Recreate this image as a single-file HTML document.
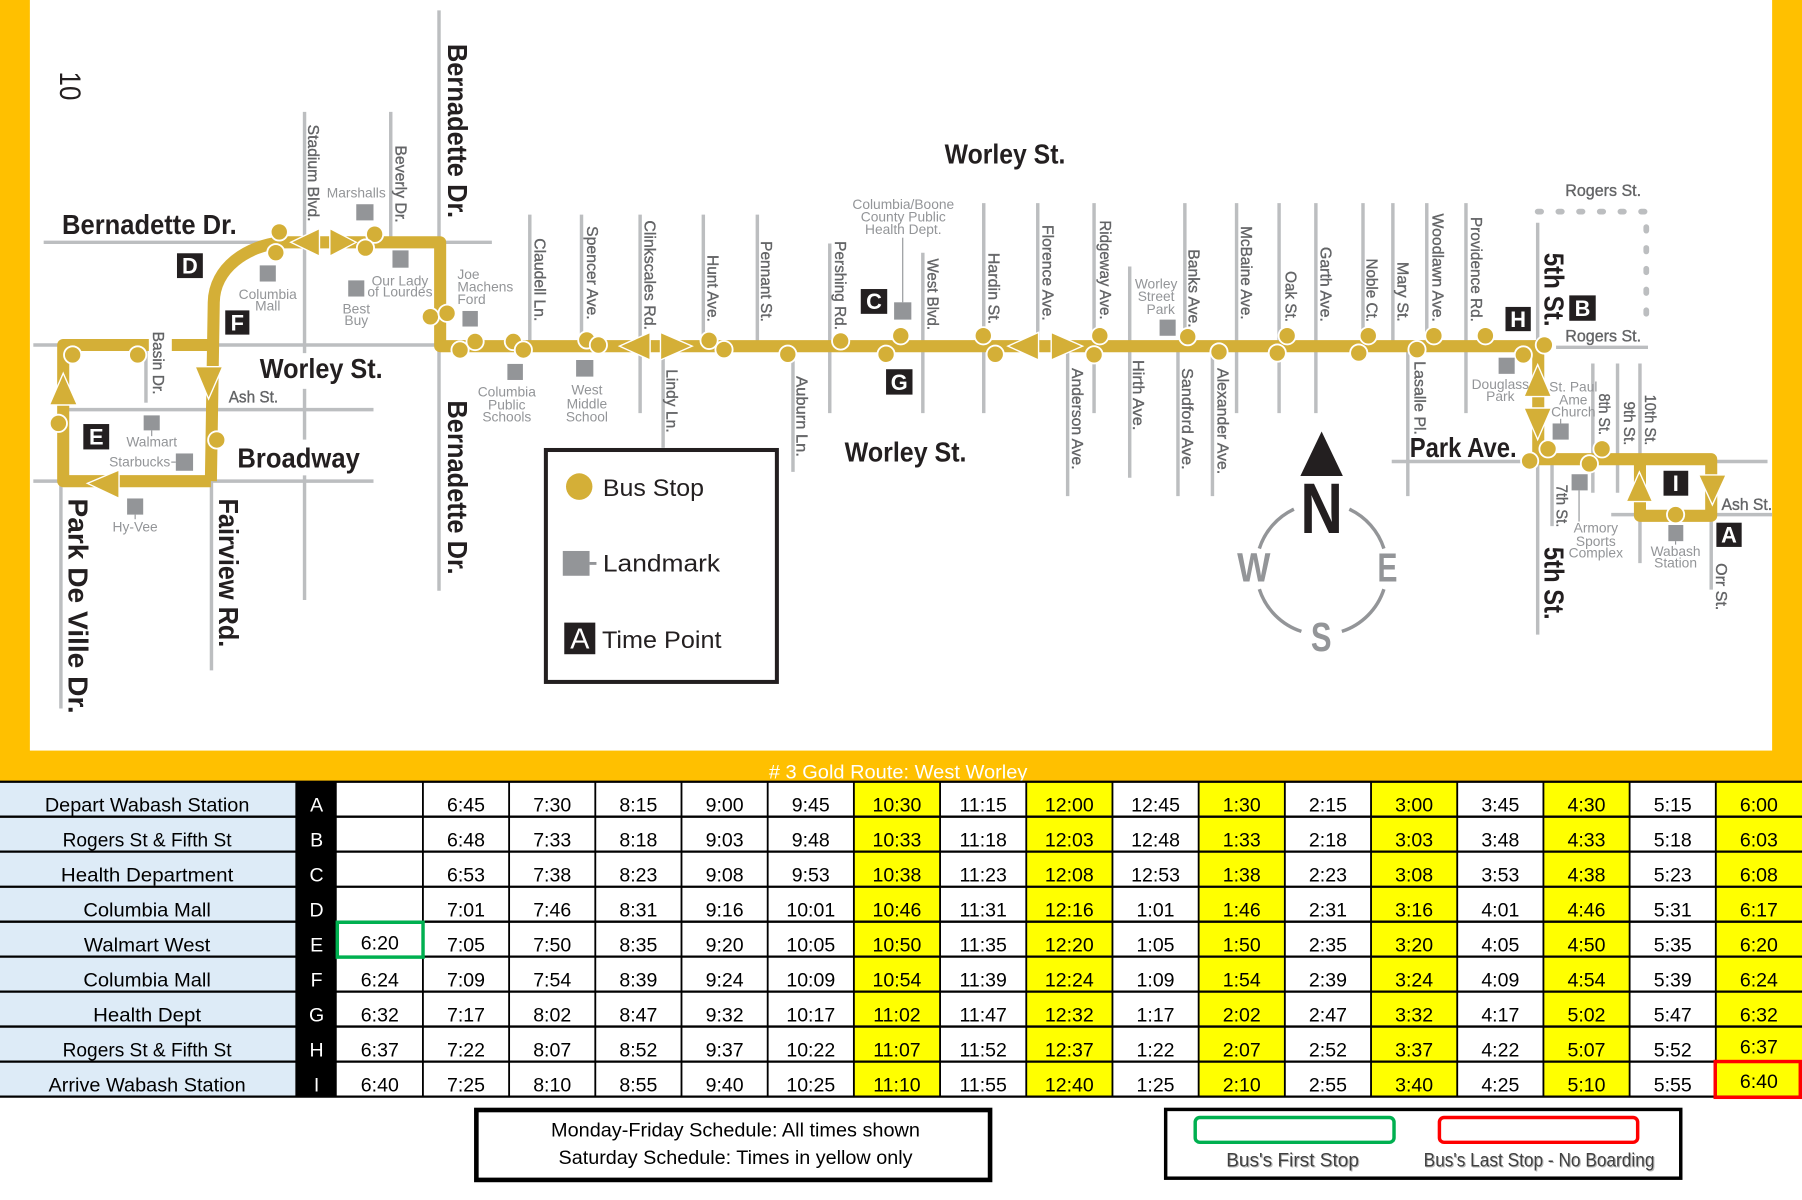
<!DOCTYPE html>
<html><head><meta charset="utf-8"><style>
html,body{margin:0;padding:0;background:#fff;}
svg{display:block;}
text{font-family:"Liberation Sans",sans-serif;}
.sl{font-size:14px;fill:#636466;stroke:#636466;stroke-width:0.3;}
.bl{font-size:24px;font-weight:bold;fill:#231F20;}
.lm{font-size:12px;fill:#939598;text-anchor:middle;}
.tp{font-size:19px;font-weight:bold;fill:#fff;text-anchor:middle;}
.tc{font-size:17px;fill:#000;text-anchor:middle;}
.nm{font-size:17px;fill:#000;text-anchor:middle;}
.lt{font-size:17px;fill:#fff;text-anchor:middle;}
</style></head><body>
<svg width="1802" height="1200" viewBox="0 0 1568 1040" preserveAspectRatio="none" xmlns="http://www.w3.org/2000/svg">
<rect x="0" y="0" width="1568" height="1040" fill="#fff"/>
<rect x="0" y="0" width="26" height="678" fill="#FFC000"/>
<rect x="1542" y="0" width="26" height="678" fill="#FFC000"/>
<rect x="0" y="650.5" width="1568" height="27.5" fill="#FFC000"/>

<!-- streets -->
<g stroke="#BCBEC0" stroke-width="3" fill="none">
<line x1="38" y1="210" x2="428" y2="210"/>
<line x1="29" y1="299" x2="382" y2="299"/>
<line x1="55" y1="355" x2="325" y2="355"/>
<line x1="29" y1="417" x2="325" y2="417"/>
<line x1="1354" y1="301" x2="1434" y2="301"/>
<line x1="1211" y1="400" x2="1538" y2="400"/>
<line x1="1402" y1="446" x2="1542" y2="446"/>
<line x1="265" y1="97" x2="265" y2="306"/>
<line x1="265" y1="337" x2="265" y2="381"/>
<line x1="265" y1="412" x2="265" y2="520"/>
<line x1="340" y1="97" x2="340" y2="210"/>
<line x1="382" y1="9" x2="382" y2="512"/>
<line x1="127" y1="300" x2="127" y2="349"/>
<line x1="184" y1="417" x2="184" y2="581"/>
<line x1="53" y1="417" x2="53" y2="614"/>
<line x1="461" y1="186" x2="461" y2="300"/>
<line x1="506" y1="186" x2="506" y2="300"/>
<line x1="557" y1="186" x2="557" y2="358"/>
<line x1="577" y1="300" x2="577" y2="388"/>
<line x1="612" y1="186" x2="612" y2="300"/>
<line x1="659" y1="186" x2="659" y2="300"/>
<line x1="690" y1="300" x2="690" y2="409"/>
<line x1="722" y1="211" x2="722" y2="358"/>
<line x1="803" y1="219" x2="803" y2="358"/>
<line x1="856" y1="176" x2="856" y2="358"/>
<line x1="903" y1="176" x2="903" y2="300"/>
<line x1="929" y1="300" x2="929" y2="430"/>
<line x1="952" y1="176" x2="952" y2="358"/>
<line x1="983" y1="231" x2="983" y2="414"/>
<line x1="1025" y1="300" x2="1025" y2="430"/>
<line x1="1031" y1="176" x2="1031" y2="300"/>
<line x1="1055" y1="300" x2="1055" y2="430"/>
<line x1="1076" y1="176" x2="1076" y2="358"/>
<line x1="1113" y1="176" x2="1113" y2="358"/>
<line x1="1145" y1="176" x2="1145" y2="358"/>
<line x1="1186" y1="176" x2="1186" y2="300"/>
<line x1="1212" y1="176" x2="1212" y2="300"/>
<line x1="1225" y1="300" x2="1225" y2="430"/>
<line x1="1241.5" y1="176" x2="1241.5" y2="300"/>
<line x1="1275.6" y1="176" x2="1275.6" y2="358"/>
<line x1="1338" y1="193" x2="1338" y2="550"/>
<line x1="1386" y1="315" x2="1386" y2="427"/>
<line x1="1407.5" y1="315" x2="1407.5" y2="427"/>
<line x1="1427" y1="315" x2="1427" y2="488"/>
<line x1="1350.5" y1="400" x2="1350.5" y2="456"/>
<line x1="1489" y1="447" x2="1489" y2="511"/>
</g>
<path d="M1338,183.4 H1432.5 V277" stroke="#BCBEC0" stroke-width="5" fill="none" stroke-dasharray="3 15" stroke-linecap="round"/>

<!-- route -->
<g stroke="#D4AF37" stroke-width="10.5" fill="none" stroke-linejoin="round">
<path d="M185,299 H55 V417 H183.5"/>
<path d="M245,210 C215,213 186.5,232 186,262 L183.5,417"/>
<path d="M240,210 H383 V300 H1338.5 V398 H1489 V447 H1427 V398"/>
</g>
<rect x="129.5" y="291" width="20" height="17" fill="#fff"/>

<!-- arrows -->
<g fill="#D4AF37" stroke="#fff" stroke-width="1.2">
<polygon points="253,210 278,198 278,222"/>
<polygon points="310,210 287,198 287,222"/>
<polygon points="539,300 565.7,288 565.7,312"/>
<polygon points="602.3,300 574.7,288 574.7,312"/>
<polygon points="877,300 903.7,288 903.7,312"/>
<polygon points="942,300 914.7,288 914.7,312"/>
<polygon points="1338,316 1326,343.7 1350,343.7"/>
<polygon points="1338,381 1326,353.6 1350,353.6"/>
<polygon points="55,323.5 43,351 67.3,351"/>
<polygon points="181.5,345.8 169.7,317.8 193.8,317.8"/>
<polygon points="76,418.9 103.6,407.3 103.6,431.9"/>
<polygon points="1426.5,409 1415,434.7 1438,434.7"/>
<polygon points="1490,437.6 1478,411.6 1502,411.6"/>
</g>

<!-- bus stops -->
<g fill="#D4AF37" stroke="#fff" stroke-width="1.6">
<circle cx="63.2" cy="307.6" r="7.5"/>
<circle cx="119.8" cy="307.6" r="7.5"/>
<circle cx="50.8" cy="366.9" r="7.5"/>
<circle cx="188.6" cy="381.3" r="7.5"/>
<circle cx="243" cy="201" r="7.5"/>
<circle cx="240" cy="219" r="7.5"/>
<circle cx="326" cy="203" r="7.5"/>
<circle cx="318" cy="215" r="7.5"/>
<circle cx="374.5" cy="274.5" r="7.5"/>
<circle cx="389" cy="271.5" r="7.5"/>
<circle cx="400.3" cy="303.3" r="7.5"/>
<circle cx="413.4" cy="296" r="7.5"/>
<circle cx="446.7" cy="296" r="7.5"/>
<circle cx="455.4" cy="303.3" r="7.5"/>
<circle cx="510.6" cy="294.6" r="7.5"/>
<circle cx="520.7" cy="299" r="7.5"/>
<circle cx="617" cy="295" r="7.5"/>
<circle cx="630" cy="303" r="7.5"/>
<circle cx="685.5" cy="307" r="7.5"/>
<circle cx="731.5" cy="295.5" r="7.5"/>
<circle cx="783.8" cy="291" r="7.5"/>
<circle cx="771" cy="307" r="7.5"/>
<circle cx="855.6" cy="291" r="7.5"/>
<circle cx="866" cy="307" r="7.5"/>
<circle cx="957" cy="291" r="7.5"/>
<circle cx="952" cy="307.5" r="7.5"/>
<circle cx="1033.5" cy="291.8" r="7.5"/>
<circle cx="1060.7" cy="305" r="7.5"/>
<circle cx="1120" cy="291" r="7.5"/>
<circle cx="1111.4" cy="306" r="7.5"/>
<circle cx="1190.6" cy="291" r="7.5"/>
<circle cx="1182.3" cy="306" r="7.5"/>
<circle cx="1233" cy="303" r="7.5"/>
<circle cx="1247.7" cy="291" r="7.5"/>
<circle cx="1292.5" cy="291" r="7.5"/>
<circle cx="1325.5" cy="307.6" r="7.5"/>
<circle cx="1343.8" cy="299" r="7.5"/>
<circle cx="1347" cy="389" r="7.5"/>
<circle cx="1331" cy="399.5" r="7.5"/>
<circle cx="1394" cy="389" r="7.5"/>
<circle cx="1383" cy="402" r="7.5"/>
<circle cx="1458" cy="446" r="7.5"/>
</g>

<!-- landmarks -->
<g fill="#939598">
<rect x="310" y="177" width="15" height="14"/>
<rect x="226" y="230" width="14" height="14"/>
<rect x="341.5" y="217" width="14" height="15"/>
<rect x="303" y="243" width="14" height="14"/>
<rect x="402.4" y="269.5" width="13.4" height="13.5"/>
<rect x="441.5" y="315.4" width="13.5" height="13.9"/>
<rect x="501.3" y="312" width="15" height="14.4"/>
<rect x="778" y="262" width="15" height="15"/>
<rect x="1009" y="277" width="14" height="14"/>
<rect x="1304" y="310" width="14" height="14"/>
<rect x="1351" y="367" width="14" height="14"/>
<rect x="1367.5" y="411" width="14" height="14"/>
<rect x="1451.7" y="455" width="13" height="14"/>
<rect x="125" y="360" width="14" height="13"/>
<rect x="153" y="393" width="15" height="15"/>
<rect x="110.6" y="432" width="14" height="14"/>
</g>
<g stroke="#939598" stroke-width="1">
<line x1="785.5" y1="206" x2="785.5" y2="262"/>
<line x1="1374" y1="425" x2="1374" y2="452"/>
<line x1="149" y1="400.5" x2="153" y2="400.5"/>
<line x1="132" y1="373" x2="132" y2="378"/>
<line x1="117.6" y1="446" x2="117.6" y2="450"/>
<line x1="1358" y1="363" x2="1358" y2="367"/>
<line x1="1458" y1="469" x2="1458" y2="472"/>
</g>

<!-- landmark labels -->
<g class="lm">
<text class="lm" x="310" y="171">Marshalls</text>
<text class="lm" x="233" y="259">Columbia</text>
<text class="lm" x="233" y="269.2">Mall</text>
<text class="lm" x="348" y="247.6">Our Lady</text>
<text class="lm" x="348" y="257">of Lourdes</text>
<text class="lm" x="310" y="271.5">Best</text>
<text class="lm" x="310" y="281.7">Buy</text>
<text class="lm" x="398" y="242" style="text-anchor:start">Joe</text>
<text class="lm" x="398" y="252.8" style="text-anchor:start">Machens</text>
<text class="lm" x="398" y="263.5" style="text-anchor:start">Ford</text>
<text class="lm" x="441" y="343.8">Columbia</text>
<text class="lm" x="441" y="354.7">Public</text>
<text class="lm" x="441" y="365.4">Schools</text>
<text class="lm" x="510.7" y="341.7">West</text>
<text class="lm" x="510.7" y="353.9">Middle</text>
<text class="lm" x="510.7" y="365.4">School</text>
<text class="lm" x="786" y="181">Columbia/Boone</text>
<text class="lm" x="786" y="192.1">County Public</text>
<text class="lm" x="786" y="202.8">Health Dept.</text>
<text class="lm" x="1006" y="250">Worley</text>
<text class="lm" x="1006" y="261">Street</text>
<text class="lm" x="1010" y="272">Park</text>
<text class="lm" x="1305.5" y="337">Douglass</text>
<text class="lm" x="1305.5" y="347.5">Park</text>
<text class="lm" x="1369" y="339.4">St. Paul</text>
<text class="lm" x="1369" y="350.4">Ame</text>
<text class="lm" x="1369" y="361">Church</text>
<text class="lm" x="1388.6" y="461.6">Armory</text>
<text class="lm" x="1388.6" y="473">Sports</text>
<text class="lm" x="1388.6" y="483.3">Complex</text>
<text class="lm" x="1458" y="481.9">Wabash</text>
<text class="lm" x="1458" y="492">Station</text>
<text class="lm" x="132" y="387">Walmart</text>
<text class="lm" x="148.2" y="404.4" style="text-anchor:end">Starbucks</text>
<text class="lm" x="117.6" y="460.8">Hy-Vee</text>
</g>

<!-- gray street labels -->
<g>
<text class="sl" transform="translate(268,108) rotate(90)" textLength="84" lengthAdjust="spacingAndGlyphs">Stadium Blvd.</text>
<text class="sl" transform="translate(344,126) rotate(90)" textLength="67" lengthAdjust="spacingAndGlyphs">Beverly Dr.</text>
<text class="sl" transform="translate(133,287.4) rotate(90)" textLength="54.5" lengthAdjust="spacingAndGlyphs">Basin Dr.</text>
<text class="sl" transform="translate(465,206.5) rotate(90)" textLength="72" lengthAdjust="spacingAndGlyphs">Claudell Ln.</text>
<text class="sl" transform="translate(510.7,196) rotate(90)" textLength="81" lengthAdjust="spacingAndGlyphs">Spencer Ave.</text>
<text class="sl" transform="translate(561,191) rotate(90)" textLength="95" lengthAdjust="spacingAndGlyphs">Clinkscales Rd.</text>
<text class="sl" transform="translate(580,320) rotate(90)" textLength="55" lengthAdjust="spacingAndGlyphs">Lindy Ln.</text>
<text class="sl" transform="translate(615.6,221) rotate(90)" textLength="58" lengthAdjust="spacingAndGlyphs">Hunt Ave.</text>
<text class="sl" transform="translate(662,209) rotate(90)" textLength="70" lengthAdjust="spacingAndGlyphs">Pennant St.</text>
<text class="sl" transform="translate(693,326) rotate(90)" textLength="70" lengthAdjust="spacingAndGlyphs">Auburn Ln.</text>
<text class="sl" transform="translate(726.5,209) rotate(90)" textLength="77" lengthAdjust="spacingAndGlyphs">Pershing Rd.</text>
<text class="sl" transform="translate(807,224) rotate(90)" textLength="62" lengthAdjust="spacingAndGlyphs">West Blvd.</text>
<text class="sl" transform="translate(860,219) rotate(90)" textLength="62" lengthAdjust="spacingAndGlyphs">Hardin St.</text>
<text class="sl" transform="translate(907,195) rotate(90)" textLength="83" lengthAdjust="spacingAndGlyphs">Florence Ave.</text>
<text class="sl" transform="translate(932.7,319) rotate(90)" textLength="88" lengthAdjust="spacingAndGlyphs">Anderson Ave.</text>
<text class="sl" transform="translate(957,191) rotate(90)" textLength="86" lengthAdjust="spacingAndGlyphs">Ridgeway Ave.</text>
<text class="sl" transform="translate(986,312) rotate(90)" textLength="61" lengthAdjust="spacingAndGlyphs">Hirth Ave.</text>
<text class="sl" transform="translate(1034,216) rotate(90)" textLength="68" lengthAdjust="spacingAndGlyphs">Banks Ave.</text>
<text class="sl" transform="translate(1028.5,319) rotate(90)" textLength="88" lengthAdjust="spacingAndGlyphs">Sandford Ave.</text>
<text class="sl" transform="translate(1059.4,319) rotate(90)" textLength="92" lengthAdjust="spacingAndGlyphs">Alexander Ave.</text>
<text class="sl" transform="translate(1080,196) rotate(90)" textLength="81" lengthAdjust="spacingAndGlyphs">McBaine Ave.</text>
<text class="sl" transform="translate(1118.6,235) rotate(90)" textLength="44" lengthAdjust="spacingAndGlyphs">Oak St.</text>
<text class="sl" transform="translate(1149,214) rotate(90)" textLength="65" lengthAdjust="spacingAndGlyphs">Garth Ave.</text>
<text class="sl" transform="translate(1189,224) rotate(90)" textLength="55" lengthAdjust="spacingAndGlyphs">Noble Ct.</text>
<text class="sl" transform="translate(1216,227) rotate(90)" textLength="52" lengthAdjust="spacingAndGlyphs">Mary St.</text>
<text class="sl" transform="translate(1231,313) rotate(90)" textLength="64" lengthAdjust="spacingAndGlyphs">Lasalle Pl.</text>
<text class="sl" transform="translate(1246.4,185) rotate(90)" textLength="94" lengthAdjust="spacingAndGlyphs">Woodlawn Ave.</text>
<text class="sl" transform="translate(1280,188) rotate(90)" textLength="91" lengthAdjust="spacingAndGlyphs">Providence Rd.</text>
<text class="sl" transform="translate(1391.5,341) rotate(90)" textLength="36" lengthAdjust="spacingAndGlyphs">8th St.</text>
<text class="sl" transform="translate(1413,348) rotate(90)" textLength="38" lengthAdjust="spacingAndGlyphs">9th St.</text>
<text class="sl" transform="translate(1431.5,342) rotate(90)" textLength="44" lengthAdjust="spacingAndGlyphs">10th St.</text>
<text class="sl" transform="translate(1354.5,420) rotate(90)" textLength="37" lengthAdjust="spacingAndGlyphs">7th St.</text>
<text class="sl" transform="translate(1493,488) rotate(90)" textLength="41" lengthAdjust="spacingAndGlyphs">Orr St.</text>
<text class="sl" x="199" y="349" textLength="43" lengthAdjust="spacingAndGlyphs">Ash St.</text>
<text class="sl" x="1498" y="442" textLength="44" lengthAdjust="spacingAndGlyphs">Ash St.</text>
<text class="sl" x="1362" y="170" textLength="66" lengthAdjust="spacingAndGlyphs">Rogers St.</text>
<text class="sl" x="1362" y="296" textLength="66" lengthAdjust="spacingAndGlyphs">Rogers St.</text>
</g>

<!-- bold labels -->
<g>
<text class="bl" x="54" y="203" textLength="152" lengthAdjust="spacingAndGlyphs">Bernadette Dr.</text>
<text class="bl" x="226" y="327.7" textLength="107" lengthAdjust="spacingAndGlyphs">Worley St.</text>
<text class="bl" x="822" y="141.5" textLength="105" lengthAdjust="spacingAndGlyphs">Worley St.</text>
<text class="bl" x="735" y="400" textLength="106" lengthAdjust="spacingAndGlyphs">Worley St.</text>
<text class="bl" x="206.6" y="405" textLength="106.5" lengthAdjust="spacingAndGlyphs">Broadway</text>
<text class="bl" x="1226.7" y="396" textLength="93" lengthAdjust="spacingAndGlyphs">Park Ave.</text>
<text class="bl" transform="translate(390,38) rotate(90)" textLength="151" lengthAdjust="spacingAndGlyphs">Bernadette Dr.</text>
<text class="bl" transform="translate(390,347) rotate(90)" textLength="151" lengthAdjust="spacingAndGlyphs">Bernadette Dr.</text>
<text class="bl" transform="translate(190.5,432) rotate(90)" textLength="129" lengthAdjust="spacingAndGlyphs">Fairview Rd.</text>
<text class="bl" transform="translate(59.5,432) rotate(90)" textLength="186.5" lengthAdjust="spacingAndGlyphs">Park De Ville Dr.</text>
<text class="bl" transform="translate(1344,219) rotate(90)" textLength="64" lengthAdjust="spacingAndGlyphs">5th St.</text>
<text class="bl" transform="translate(1344,474) rotate(90)" textLength="63" lengthAdjust="spacingAndGlyphs">5th St.</text>
<text transform="translate(52,62) rotate(90)" font-size="26" fill="#231F20" textLength="25" lengthAdjust="spacingAndGlyphs">10</text>
</g>

<!-- time point boxes -->
<g fill="#231F20">
<rect x="154" y="219.5" width="22.5" height="21.5"/>
<rect x="196" y="269" width="21" height="21"/>
<rect x="72.5" y="367.5" width="22.5" height="22"/>
<rect x="749" y="250.5" width="23" height="21.5"/>
<rect x="771" y="320" width="23" height="22"/>
<rect x="1310" y="266" width="22" height="21"/>
<rect x="1365.5" y="256" width="23" height="22"/>
<rect x="1447.5" y="408" width="21.5" height="21.6"/>
<rect x="1493.5" y="453" width="22" height="21"/>
</g>
<g>
<text class="tp" x="165.2" y="237.2">D</text>
<text class="tp" x="206.5" y="286.3">F</text>
<text class="tp" x="83.8" y="385.3">E</text>
<text class="tp" x="760.5" y="268">C</text>
<text class="tp" x="782.5" y="337.8">G</text>
<text class="tp" x="1321" y="283.3">H</text>
<text class="tp" x="1377" y="273.8">B</text>
<text class="tp" x="1458.2" y="425.6">I</text>
<text class="tp" x="1504.5" y="470.3">A</text>
</g>

<!-- compass -->
<polygon points="1150,374 1131.5,412.5 1168.5,412.5" fill="#231F20"/>
<text x="1131.5" y="462" font-size="62" font-weight="bold" fill="#231F20" textLength="37" lengthAdjust="spacingAndGlyphs">N</text>
<g stroke="#939598" stroke-width="3" fill="none">
<path d="M1125.9,441.3 A57,57 0 0 0 1095.8,475.4"/>
<path d="M1095.8,510.6 A57,57 0 0 0 1132.4,547.2"/>
<path d="M1167.6,547.2 A57,57 0 0 0 1204.2,510.6"/>
<path d="M1204.2,475.4 A57,57 0 0 0 1174.1,441.3"/>
</g>
<text x="1076.5" y="504" font-size="35" font-weight="bold" fill="#939598" textLength="29" lengthAdjust="spacingAndGlyphs">W</text>
<text x="1198.5" y="504" font-size="35" font-weight="bold" fill="#939598" textLength="17.5" lengthAdjust="spacingAndGlyphs">E</text>
<text x="1140.7" y="564" font-size="35" font-weight="bold" fill="#939598" textLength="18" lengthAdjust="spacingAndGlyphs">S</text>

<!-- legend -->
<rect x="475" y="390" width="201" height="201" fill="#fff" stroke="#231F20" stroke-width="3.5"/>
<circle cx="504" cy="421.7" r="11.5" fill="#D4AF37"/>
<text x="524.6" y="430" font-size="21" fill="#231F20" textLength="88" lengthAdjust="spacingAndGlyphs">Bus Stop</text>
<rect x="489.7" y="477.5" width="23.3" height="21.5" fill="#939598"/>
<line x1="513" y1="488.3" x2="519" y2="488.3" stroke="#939598" stroke-width="2.5"/>
<text x="524.6" y="495.4" font-size="21" fill="#231F20" textLength="102" lengthAdjust="spacingAndGlyphs">Landmark</text>
<rect x="491" y="539.6" width="27" height="27.4" fill="#231F20"/>
<text x="504.5" y="562" font-size="25" fill="#fff" text-anchor="middle">A</text>
<text x="523.8" y="561.6" font-size="21" fill="#231F20" textLength="104" lengthAdjust="spacingAndGlyphs">Time Point</text>

<!-- title -->
<text x="669" y="674.5" font-size="17" fill="#fff" textLength="225" lengthAdjust="spacingAndGlyphs"># 3 Gold Route: West Worley</text>

<!-- table backgrounds -->
<rect x="0" y="677.5" width="257" height="273" fill="#DDEBF7"/>
<rect x="257" y="677.5" width="36" height="273" fill="#000"/>
<g fill="#FFFF00">
<rect x="743" y="677.5" width="75" height="273"/>
<rect x="893" y="677.5" width="75" height="273"/>
<rect x="1043" y="677.5" width="75" height="273"/>
<rect x="1193" y="677.5" width="75" height="273"/>
<rect x="1343" y="677.5" width="75" height="273"/>
<rect x="1493" y="677.5" width="75" height="273"/>
</g>
<g stroke="#000" stroke-width="2">
<line x1="0" y1="677.5" x2="1568" y2="677.5"/>
<line x1="0" y1="707.8" x2="1568" y2="707.8"/>
<line x1="0" y1="738.1" x2="1568" y2="738.1"/>
<line x1="0" y1="768.5" x2="1568" y2="768.5"/>
<line x1="0" y1="798.8" x2="1568" y2="798.8"/>
<line x1="0" y1="829.1" x2="1568" y2="829.1"/>
<line x1="0" y1="859.4" x2="1568" y2="859.4"/>
<line x1="0" y1="889.7" x2="1568" y2="889.7"/>
<line x1="0" y1="920.1" x2="1568" y2="920.1"/>
<line x1="0" y1="950.4" x2="1568" y2="950.4"/>
</g>
<g stroke="#000" stroke-width="1.6">
<line x1="368" y1="677.5" x2="368" y2="950.4"/>
<line x1="443" y1="677.5" x2="443" y2="950.4"/>
<line x1="518" y1="677.5" x2="518" y2="950.4"/>
<line x1="593" y1="677.5" x2="593" y2="950.4"/>
<line x1="668" y1="677.5" x2="668" y2="950.4"/>
<line x1="743" y1="677.5" x2="743" y2="950.4"/>
<line x1="818" y1="677.5" x2="818" y2="950.4"/>
<line x1="893" y1="677.5" x2="893" y2="950.4"/>
<line x1="968" y1="677.5" x2="968" y2="950.4"/>
<line x1="1043" y1="677.5" x2="1043" y2="950.4"/>
<line x1="1118" y1="677.5" x2="1118" y2="950.4"/>
<line x1="1193" y1="677.5" x2="1193" y2="950.4"/>
<line x1="1268" y1="677.5" x2="1268" y2="950.4"/>
<line x1="1343" y1="677.5" x2="1343" y2="950.4"/>
<line x1="1418" y1="677.5" x2="1418" y2="950.4"/>
<line x1="1493" y1="677.5" x2="1493" y2="950.4"/>
</g>

<!-- names -->
<g>
<text class="nm" x="128" y="703.5" textLength="178" lengthAdjust="spacingAndGlyphs">Depart Wabash Station</text>
<text class="nm" x="128" y="733.8" textLength="147" lengthAdjust="spacingAndGlyphs">Rogers St &amp; Fifth St</text>
<text class="nm" x="128" y="764.1" textLength="150" lengthAdjust="spacingAndGlyphs">Health Department</text>
<text class="nm" x="128" y="794.5" textLength="111" lengthAdjust="spacingAndGlyphs">Columbia Mall</text>
<text class="nm" x="128" y="824.8" textLength="110" lengthAdjust="spacingAndGlyphs">Walmart West</text>
<text class="nm" x="128" y="855.1" textLength="111" lengthAdjust="spacingAndGlyphs">Columbia Mall</text>
<text class="nm" x="128" y="885.4" textLength="94" lengthAdjust="spacingAndGlyphs">Health Dept</text>
<text class="nm" x="128" y="915.7" textLength="147" lengthAdjust="spacingAndGlyphs">Rogers St &amp; Fifth St</text>
<text class="nm" x="128" y="946.1" textLength="171.5" lengthAdjust="spacingAndGlyphs">Arrive Wabash Station</text>
<text class="lt" x="275.5" y="703.5">A</text>
<text class="lt" x="275.5" y="733.8">B</text>
<text class="lt" x="275.5" y="764.1">C</text>
<text class="lt" x="275.5" y="794.5">D</text>
<text class="lt" x="275.5" y="824.8">E</text>
<text class="lt" x="275.5" y="855.1">F</text>
<text class="lt" x="275.5" y="885.4">G</text>
<text class="lt" x="275.5" y="915.7">H</text>
<text class="lt" x="275.5" y="946.1">I</text>
</g>

<!-- times -->
<g class="tc">
<text class="tc" y="703.5"><tspan x="405.5">6:45</tspan><tspan x="480.5">7:30</tspan><tspan x="555.5">8:15</tspan><tspan x="630.5">9:00</tspan><tspan x="705.5">9:45</tspan><tspan x="780.5">10:30</tspan><tspan x="855.5">11:15</tspan><tspan x="930.5">12:00</tspan><tspan x="1005.5">12:45</tspan><tspan x="1080.5">1:30</tspan><tspan x="1155.5">2:15</tspan><tspan x="1230.5">3:00</tspan><tspan x="1305.5">3:45</tspan><tspan x="1380.5">4:30</tspan><tspan x="1455.5">5:15</tspan><tspan x="1530.5">6:00</tspan></text>
<text class="tc" y="733.8"><tspan x="405.5">6:48</tspan><tspan x="480.5">7:33</tspan><tspan x="555.5">8:18</tspan><tspan x="630.5">9:03</tspan><tspan x="705.5">9:48</tspan><tspan x="780.5">10:33</tspan><tspan x="855.5">11:18</tspan><tspan x="930.5">12:03</tspan><tspan x="1005.5">12:48</tspan><tspan x="1080.5">1:33</tspan><tspan x="1155.5">2:18</tspan><tspan x="1230.5">3:03</tspan><tspan x="1305.5">3:48</tspan><tspan x="1380.5">4:33</tspan><tspan x="1455.5">5:18</tspan><tspan x="1530.5">6:03</tspan></text>
<text class="tc" y="764.1"><tspan x="405.5">6:53</tspan><tspan x="480.5">7:38</tspan><tspan x="555.5">8:23</tspan><tspan x="630.5">9:08</tspan><tspan x="705.5">9:53</tspan><tspan x="780.5">10:38</tspan><tspan x="855.5">11:23</tspan><tspan x="930.5">12:08</tspan><tspan x="1005.5">12:53</tspan><tspan x="1080.5">1:38</tspan><tspan x="1155.5">2:23</tspan><tspan x="1230.5">3:08</tspan><tspan x="1305.5">3:53</tspan><tspan x="1380.5">4:38</tspan><tspan x="1455.5">5:23</tspan><tspan x="1530.5">6:08</tspan></text>
<text class="tc" y="794.5"><tspan x="405.5">7:01</tspan><tspan x="480.5">7:46</tspan><tspan x="555.5">8:31</tspan><tspan x="630.5">9:16</tspan><tspan x="705.5">10:01</tspan><tspan x="780.5">10:46</tspan><tspan x="855.5">11:31</tspan><tspan x="930.5">12:16</tspan><tspan x="1005.5">1:01</tspan><tspan x="1080.5">1:46</tspan><tspan x="1155.5">2:31</tspan><tspan x="1230.5">3:16</tspan><tspan x="1305.5">4:01</tspan><tspan x="1380.5">4:46</tspan><tspan x="1455.5">5:31</tspan><tspan x="1530.5">6:17</tspan></text>
<text class="tc" y="824.8"><tspan x="330.5" dy="-2">6:20</tspan><tspan x="405.5" dy="2">7:05</tspan><tspan x="480.5">7:50</tspan><tspan x="555.5">8:35</tspan><tspan x="630.5">9:20</tspan><tspan x="705.5">10:05</tspan><tspan x="780.5">10:50</tspan><tspan x="855.5">11:35</tspan><tspan x="930.5">12:20</tspan><tspan x="1005.5">1:05</tspan><tspan x="1080.5">1:50</tspan><tspan x="1155.5">2:35</tspan><tspan x="1230.5">3:20</tspan><tspan x="1305.5">4:05</tspan><tspan x="1380.5">4:50</tspan><tspan x="1455.5">5:35</tspan><tspan x="1530.5">6:20</tspan></text>
<text class="tc" y="855.1"><tspan x="330.5">6:24</tspan><tspan x="405.5">7:09</tspan><tspan x="480.5">7:54</tspan><tspan x="555.5">8:39</tspan><tspan x="630.5">9:24</tspan><tspan x="705.5">10:09</tspan><tspan x="780.5">10:54</tspan><tspan x="855.5">11:39</tspan><tspan x="930.5">12:24</tspan><tspan x="1005.5">1:09</tspan><tspan x="1080.5">1:54</tspan><tspan x="1155.5">2:39</tspan><tspan x="1230.5">3:24</tspan><tspan x="1305.5">4:09</tspan><tspan x="1380.5">4:54</tspan><tspan x="1455.5">5:39</tspan><tspan x="1530.5">6:24</tspan></text>
<text class="tc" y="885.4"><tspan x="330.5">6:32</tspan><tspan x="405.5">7:17</tspan><tspan x="480.5">8:02</tspan><tspan x="555.5">8:47</tspan><tspan x="630.5">9:32</tspan><tspan x="705.5">10:17</tspan><tspan x="780.5">11:02</tspan><tspan x="855.5">11:47</tspan><tspan x="930.5">12:32</tspan><tspan x="1005.5">1:17</tspan><tspan x="1080.5">2:02</tspan><tspan x="1155.5">2:47</tspan><tspan x="1230.5">3:32</tspan><tspan x="1305.5">4:17</tspan><tspan x="1380.5">5:02</tspan><tspan x="1455.5">5:47</tspan><tspan x="1530.5">6:32</tspan></text>
<text class="tc" y="915.7"><tspan x="330.5">6:37</tspan><tspan x="405.5">7:22</tspan><tspan x="480.5">8:07</tspan><tspan x="555.5">8:52</tspan><tspan x="630.5">9:37</tspan><tspan x="705.5">10:22</tspan><tspan x="780.5">11:07</tspan><tspan x="855.5">11:52</tspan><tspan x="930.5">12:37</tspan><tspan x="1005.5">1:22</tspan><tspan x="1080.5">2:07</tspan><tspan x="1155.5">2:52</tspan><tspan x="1230.5">3:37</tspan><tspan x="1305.5">4:22</tspan><tspan x="1380.5">5:07</tspan><tspan x="1455.5">5:52</tspan><tspan x="1530.5" dy="-2.5">6:37</tspan></text>
<text class="tc" y="946.1"><tspan x="330.5">6:40</tspan><tspan x="405.5">7:25</tspan><tspan x="480.5">8:10</tspan><tspan x="555.5">8:55</tspan><tspan x="630.5">9:40</tspan><tspan x="705.5">10:25</tspan><tspan x="780.5">11:10</tspan><tspan x="855.5">11:55</tspan><tspan x="930.5">12:40</tspan><tspan x="1005.5">1:25</tspan><tspan x="1080.5">2:10</tspan><tspan x="1155.5">2:55</tspan><tspan x="1230.5">3:40</tspan><tspan x="1305.5">4:25</tspan><tspan x="1380.5">5:10</tspan><tspan x="1455.5">5:55</tspan><tspan x="1530.5" dy="-3">6:40</tspan></text>
</g>
<rect x="293.5" y="799.3" width="74.6" height="30.2" fill="none" stroke="#00B050" stroke-width="3"/>
<rect x="1492.5" y="920" width="74" height="31" fill="none" stroke="#FF0000" stroke-width="3"/>

<!-- bottom legends -->
<rect x="414.5" y="962" width="447" height="60.6" fill="none" stroke="#000" stroke-width="4"/>
<text x="640" y="985" font-size="17" fill="#000" text-anchor="middle" textLength="321" lengthAdjust="spacingAndGlyphs">Monday-Friday Schedule: All times shown</text>
<text x="640" y="1008.7" font-size="17" fill="#000" text-anchor="middle" textLength="308" lengthAdjust="spacingAndGlyphs">Saturday Schedule: Times in yellow only</text>
<rect x="1014.3" y="961.5" width="448.2" height="59.6" fill="none" stroke="#000" stroke-width="3"/>
<rect x="1040" y="968.5" width="173" height="21.5" rx="4" fill="none" stroke="#00B050" stroke-width="3"/>
<rect x="1252.5" y="968.5" width="172.5" height="21.5" rx="4" fill="none" stroke="#FF0000" stroke-width="3"/>
<text x="1068" y="1012" font-size="17" fill="#bbb" textLength="115.5" lengthAdjust="spacingAndGlyphs">Bus's First Stop</text>
<text x="1239.8" y="1012" font-size="17" fill="#bbb" textLength="200.8" lengthAdjust="spacingAndGlyphs">Bus's Last Stop - No Boarding</text>
<text x="1067" y="1011" font-size="17" fill="#404040" textLength="115.5" lengthAdjust="spacingAndGlyphs">Bus's First Stop</text>
<text x="1238.8" y="1011" font-size="17" fill="#404040" textLength="200.8" lengthAdjust="spacingAndGlyphs">Bus's Last Stop - No Boarding</text>
</svg>
</body></html>
